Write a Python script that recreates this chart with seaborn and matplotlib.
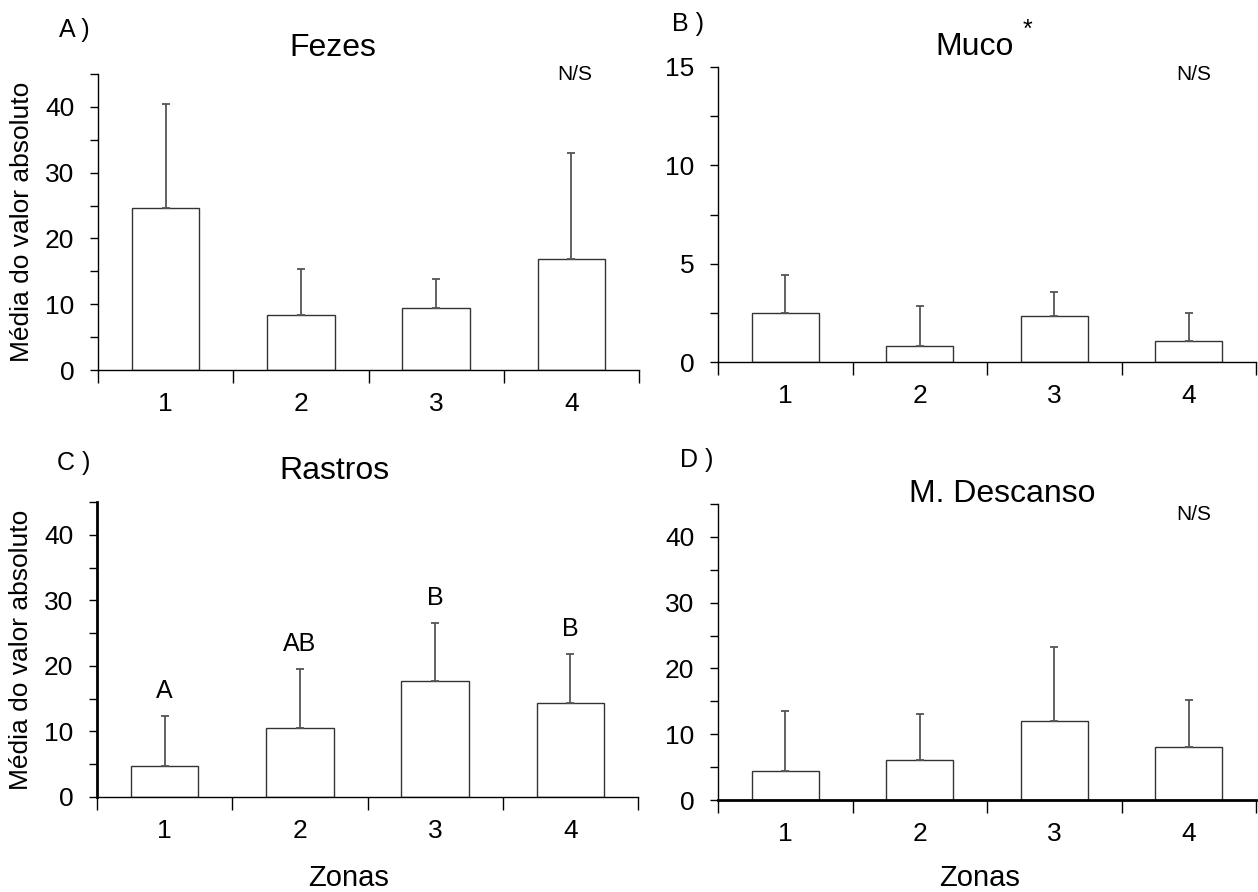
import numpy as np
import pandas as pd
import matplotlib
matplotlib.use("Agg")
import matplotlib.pyplot as plt
import seaborn as sns

zonas = ["1", "2", "3", "4"]

fezes_media = [24.7, 8.4, 9.5, 16.8]
fezes_sup = [40.4, 15.4, 13.8, 33.0]

muco_media = [2.5, 0.8, 2.35, 1.05]
muco_sup = [4.4, 2.85, 3.55, 2.5]

rastros_media = [4.8, 10.5, 17.7, 14.3]
rastros_sup = [12.3, 19.5, 26.5, 21.8]
rastros_letras = ["A", "AB", "B", "B"]

descanso_media = [4.4, 6.1, 12.0, 8.1]
descanso_sup = [13.6, 13.1, 23.2, 15.2]

sns.set_style("ticks")
plt.rcParams["font.family"] = ["Liberation Sans", "DejaVu Sans"]
plt.rcParams["text.color"] = "black"
plt.rcParams["axes.labelcolor"] = "black"
plt.rcParams["xtick.color"] = "black"
plt.rcParams["ytick.color"] = "black"

W, H = 1258, 892
fig = plt.figure(figsize=(W / 100, H / 100), dpi=100)


def px_axes(left, top, right, bottom):
    return fig.add_axes([left / W, 1 - bottom / H, (right - left) / W, (bottom - top) / H])


def px_text(x, y, s, size, **kw):
    fig.text(x / W, 1 - y / H, s, fontsize=size, ha="center", va="center", **kw)


def painel(ax, media, sup, ymax, major, minor, ylabel=None):
    df = pd.DataFrame({"zona": zonas, "media": media})
    sns.barplot(data=df, x="zona", y="media", color="white", edgecolor="#333333",
                linewidth=1, width=0.5, errorbar=None, ax=ax)
    media = np.array(media)
    sup = np.array(sup)
    ax.errorbar(np.arange(4), media, yerr=[np.zeros(4), sup - media], fmt="none",
                ecolor="#555555", elinewidth=1.3, capsize=3, capthick=1.3, zorder=3)
    ax.set_xlim(-0.5, 3.5)
    ax.set_ylim(0, ymax)
    ax.set_yticks(major)
    ax.set_yticks(minor, minor=True)
    ax.set_xticks([-0.5, 0.5, 1.5, 2.5, 3.5])
    ax.set_xticklabels([])
    ax.set_xticks([0, 1, 2, 3], minor=True)
    ax.set_xticklabels(zonas, minor=True)
    ax.tick_params(axis="x", which="major", direction="out", length=9, width=1)
    ax.tick_params(axis="x", which="minor", length=0, pad=16, labelsize=19)
    ax.tick_params(axis="y", which="both", direction="out", length=6, width=1,
                   labelsize=19, pad=11)
    ax.set_xlabel("")
    ax.set_ylabel("")
    if ylabel:
        ax.set_ylabel(ylabel, fontsize=19)
        ax.yaxis.set_label_coords(-0.118, 0.5)
    for s in ["top", "right"]:
        ax.spines[s].set_visible(False)
    for s in ["left", "bottom"]:
        ax.spines[s].set_color("black")
        ax.spines[s].set_linewidth(1)
    ax.set_facecolor("white")


axA = px_axes(98, 74, 639, 370)
painel(axA, fezes_media, fezes_sup, 45, [0, 10, 20, 30, 40], [5, 15, 25, 35, 45],
       "Média do valor absoluto")

axB = px_axes(718, 67, 1256, 362)
painel(axB, muco_media, muco_sup, 15, [0, 5, 10, 15], [2.5, 7.5, 12.5])

axC = px_axes(97, 502, 638, 797)
painel(axC, rastros_media, rastros_sup, 45, [0, 10, 20, 30, 40], [5, 15, 25, 35, 45],
       "Média do valor absoluto")
axC.spines["left"].set_linewidth(2)
for i, letra in enumerate(rastros_letras):
    axC.text(i, rastros_sup[i] + 3.8, letra, ha="center", va="center", fontsize=18)

axD = px_axes(718, 504, 1256, 800)
painel(axD, descanso_media, descanso_sup, 45, [0, 10, 20, 30, 40], [5, 15, 25, 35, 45])
axD.spines["bottom"].set_linewidth(2)

# textos dos paineis
px_text(74, 30, "A )", 18)
px_text(333, 48, "Fezes", 23)
px_text(575, 75, "N/S", 15)

px_text(688, 24, "B )", 18)
px_text(975, 47, "Muco", 23)
px_text(1027, 30, "*", 18)
px_text(1194, 75, "N/S", 15)

px_text(74, 463, "C )", 18)
px_text(334, 471, "Rastros", 23)

px_text(697, 460, "D )", 18)
px_text(1002, 494, "M. Descanso", 23)
px_text(1194, 515, "N/S", 15)

px_text(349, 878, "Zonas", 21)
px_text(980, 878, "Zonas", 21)

fig.savefig("out.png", dpi=100, facecolor="white")
